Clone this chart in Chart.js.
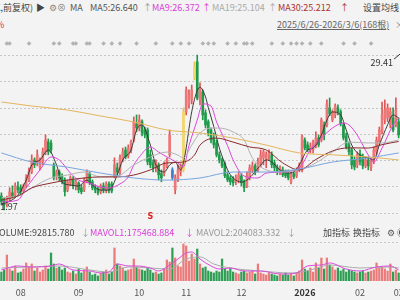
<!DOCTYPE html>
<html><head><meta charset="utf-8">
<script src="https://cdn.jsdelivr.net/npm/chart.js@4.4.1/dist/chart.umd.min.js"></script>
<style>
html,body{margin:0;padding:0;background:#f3f3f3;width:400px;height:300px;overflow:hidden;font-family:"Noto Sans CJK SC","Noto Sans",sans-serif;}
#wrap{position:relative;width:400px;height:300px;overflow:hidden;background:#f3f3f3;}
canvas{position:absolute;left:0;}
.t{position:absolute;white-space:nowrap;font-size:9px;line-height:12px;}
</style></head>
<body><div id="wrap">
<canvas id="pc" width="400" height="180" style="top:40px;width:400px;height:180px"></canvas>
<canvas id="vc" width="400" height="64" style="top:236px;width:400px;height:64px"></canvas>
<div class="t" style="top:2px;right:367px;color:#444">日K,前复权)</div>
<div class="t" style="top:2px;left:36px;color:#444">▶</div>
<div class="t" style="top:2px;left:49px;color:#888">⚙⊗</div>
<div class="t" style="top:2px;left:70px;color:#555">MA</div>
<div class="t" style="top:2px;left:90px;color:#555">MA5:26.640</div>
<div class="t" style="top:2px;left:143px;color:#999">↑</div>
<div class="t" style="top:2px;left:152px;color:#d83fd8">MA9:26.372</div>
<div class="t" style="top:2px;left:202px;color:#d83fd8">↑</div>
<div class="t" style="top:2px;left:212px;color:#aaa">MA19:25.104</div>
<div class="t" style="top:2px;left:268px;color:#aaa">↑</div>
<div class="t" style="top:2px;left:278px;color:#a83232">MA30:25.212</div>
<div class="t" style="top:2px;left:340px;color:#a83232">↑</div>
<div class="t" style="top:2px;left:363px;color:#444">设置均线</div>
<div class="t" style="top:19px;left:-4px;color:#e03030">%</div>
<div class="t" style="top:19px;left:277px;color:#666;text-decoration:underline">2025/6/26-2026/3/6(168根)</div>
<div class="t" style="top:19px;left:395px;color:#888">×</div>
<div class="t" style="top:227px;left:-6px;color:#444">VOLUME:92815.780</div>
<div class="t" style="top:227px;left:81px;color:#999">↓</div>
<div class="t" style="top:227px;left:90px;color:#d83fd8">MAVOL1:175468.884</div>
<div class="t" style="top:227px;left:185px;color:#d83fd8">↓</div>
<div class="t" style="top:227px;left:196px;color:#999">MAVOL2:204083.332</div>
<div class="t" style="top:227px;left:287px;color:#999">↓</div>
<div class="t" style="top:227px;left:323px;color:#444">加指标</div>
<div class="t" style="top:227px;left:353px;color:#444">换指标</div>
<div class="t" style="top:227px;left:387px;color:#555">⚙</div>
<div class="t" style="top:227px;left:397px;color:#555">◉</div>
</div>
<script>
// ---------- data (visible bars, oldest first) ----------
const open = [22.63,22.45,22.26,22.49,22.78,22.68,23.06,23.02,22.87,23.11,
23.39,23.77,24.33,24.19,23.96,24.24,24.71,25.18,25.13,24.10,
23.58,23.77,23.54,23.39,22.92,23.25,23.39,23.11,23.25,23.02,
22.92,23.39,23.68,23.30,23.02,22.97,22.83,23.11,22.92,23.20,
23.20,23.63,23.96,23.77,24.33,24.80,24.52,24.80,25.27,26.03,
25.84,26.13,25.74,25.74,24.57,24.19,23.96,24.10,23.68,23.68,
24.05,24.57,23.86,22.92,23.39,23.77,23.86,26.60,26.97,27.16,
28.19,28.95,27.16,27.54,26.55,26.13,25.74,25.37,25.13,24.57,
24.33,24.15,23.63,23.49,23.39,23.30,23.39,23.58,23.30,23.11,
23.49,23.86,24.05,23.86,24.10,24.42,24.33,24.52,24.57,24.19,
23.96,23.77,23.86,23.77,23.72,23.30,23.68,23.58,23.86,23.86,
25.27,25.04,24.80,24.80,24.99,25.37,25.27,25.98,25.98,26.78,
26.22,26.45,26.78,26.60,25.98,25.46,25.04,24.80,24.33,24.10,
24.61,24.42,24.05,24.33,23.96,24.24,24.71,25.18,25.65,26.22,
26.31,25.98,26.31,25.98,26.13];
const close = [22.36,22.21,22.54,22.83,22.63,23.11,22.92,22.83,23.11,23.49,
23.77,24.33,24.10,24.57,24.33,24.71,25.27,24.71,24.80,23.49,
23.77,23.49,23.30,22.83,23.30,23.49,23.11,23.30,22.92,22.83,
23.39,23.77,23.25,23.02,22.92,22.78,23.11,22.92,23.20,22.92,
22.87,24.10,23.77,24.43,24.71,24.47,24.89,25.18,26.13,25.84,
26.22,25.60,25.51,24.24,24.10,23.96,24.24,23.63,23.49,24.10,
24.33,25.51,23.49,23.49,23.86,24.05,26.60,27.63,27.39,27.63,
28.75,27.25,27.72,26.45,25.98,25.60,25.27,25.04,24.57,24.33,
24.05,23.58,23.39,23.30,23.25,23.49,23.63,23.25,23.02,23.58,
23.96,24.05,23.77,24.24,24.57,24.71,24.57,24.66,24.10,23.96,
23.77,23.96,23.63,23.58,23.49,23.68,23.54,23.86,24.10,25.42,
24.89,24.80,24.99,25.18,25.37,25.04,26.22,25.51,26.97,26.50,
26.60,26.88,26.60,26.03,25.37,24.94,24.71,24.10,24.00,24.57,
24.24,24.05,24.33,24.05,24.24,24.80,25.27,25.74,26.45,26.69,
26.78,26.60,25.74,26.69,25.51];
const high = [22.78,22.54,22.63,23.02,23.11,23.25,23.30,23.16,23.20,23.63,
23.96,24.57,24.43,24.80,24.43,24.89,25.51,25.32,25.27,24.19,
23.86,23.86,23.68,23.49,23.39,23.58,23.54,23.39,23.30,23.16,
23.49,23.86,23.77,23.39,23.16,23.06,23.20,23.25,23.30,23.30,
23.30,24.43,24.19,24.57,24.89,24.94,25.04,25.27,26.36,26.45,
26.45,26.22,25.88,25.84,24.80,24.33,24.33,24.19,23.86,24.24,
24.42,25.74,23.96,23.63,24.10,24.15,26.78,27.77,27.63,27.86,
28.95,29.27,27.96,27.63,26.69,26.22,25.84,25.60,25.27,24.71,
24.42,24.24,23.77,23.58,23.54,23.63,23.77,23.68,23.39,23.77,
24.10,24.24,24.15,24.42,24.80,24.80,24.71,24.80,24.71,24.33,
24.10,24.05,24.00,23.86,23.86,23.82,23.82,23.96,24.19,25.51,
25.37,25.18,25.13,25.27,25.65,25.51,26.31,26.13,27.16,27.25,
26.69,26.97,26.92,26.69,26.08,25.60,25.18,24.89,24.47,24.71,
24.80,24.61,24.47,24.47,24.42,24.94,25.41,25.88,27.06,27.16,
26.97,26.78,26.78,27.25,26.31];
const low = [22.21,21.97,22.12,22.40,22.54,22.59,22.78,22.68,22.78,23.02,
23.30,23.68,23.96,24.05,23.86,24.10,24.57,24.57,24.66,23.39,
23.39,23.34,23.20,22.63,22.83,23.11,22.97,22.92,22.78,22.73,
22.83,23.25,23.16,22.92,22.78,22.68,22.73,22.78,22.78,22.78,
22.78,23.49,23.63,23.63,24.24,24.38,24.42,24.66,25.18,25.65,
25.70,25.46,25.37,24.10,23.96,23.77,23.77,23.39,23.30,23.58,
23.96,24.47,23.39,22.73,23.30,23.58,23.77,26.45,26.78,26.97,
28.10,27.16,26.92,26.22,25.84,25.46,25.13,24.89,24.47,24.19,
23.96,23.49,23.30,23.16,23.11,23.16,23.25,23.11,22.83,23.02,
23.39,23.72,23.63,23.77,24.00,24.10,23.96,24.33,23.96,23.82,
23.63,23.63,23.54,23.49,23.39,23.20,23.44,23.49,23.77,23.77,
24.80,24.71,24.66,24.66,24.89,24.94,25.18,25.27,25.88,26.41,
26.13,26.31,26.45,25.93,25.27,24.85,24.57,23.91,23.86,23.96,
24.10,23.91,23.96,23.86,23.82,24.15,24.57,25.04,25.56,26.03,
26.13,25.84,25.65,25.88,25.37];
const volume = [159000,195000,460000,212000,177000,266000,142000,159000,212000,319000,
248000,301000,177000,230000,159000,195000,266000,212000,496000,301000,
230000,248000,195000,230000,159000,142000,177000,124000,212000,142000,
195000,248000,159000,106000,124000,89000,142000,159000,195000,124000,
159000,584000,301000,266000,230000,177000,195000,212000,389000,248000,
212000,195000,177000,230000,195000,142000,159000,124000,142000,212000,
372000,336000,584000,407000,266000,248000,655000,620000,354000,478000,
389000,566000,301000,230000,248000,177000,159000,142000,177000,159000,
389000,212000,177000,230000,159000,142000,124000,159000,177000,142000,
159000,177000,124000,301000,142000,124000,106000,142000,124000,106000,
89000,124000,106000,142000,106000,124000,89000,142000,177000,372000,
212000,177000,230000,159000,319000,230000,407000,212000,407000,283000,
248000,195000,230000,177000,212000,159000,195000,177000,159000,142000,
159000,177000,142000,159000,177000,195000,319000,230000,248000,212000,
177000,301000,159000,195000,142000];
const yellowIdx = [66,70];
const blueIdx = [62];

// moving-average lines (bar index, value)
const ma5Idx = [0,6,9,11,14,17,20,22,25,28,31,33,36,39,42,44,47,49,51,54,56,59,61,63,65,66,67,68,69,71,72,74,75,77,79,82,84,87,89,91,94,96,98,101,104,106,108,111,113,116,118,120,123,125,127,130,133,135,137,140,142,144];
const ma5Val = [22.21,22.68,23.38,24.09,24.33,24.80,24.09,23.29,23.15,23.10,23.38,23.15,22.91,22.91,23.62,24.33,24.80,25.74,25.98,25.03,24.09,23.76,24.09,24.23,23.86,24.20,24.90,25.80,26.60,27.60,27.75,27.30,26.80,25.90,24.90,23.86,23.48,23.29,23.38,23.62,24.09,24.33,24.23,23.86,23.71,23.76,24.09,24.80,24.89,25.50,26.21,26.59,26.45,25.74,25.03,24.56,24.42,24.33,25.03,25.98,26.45,26.31];
const ma9Idx = [0,6,9,14,18,21,25,28,32,36,39,43,46,48,50,54,57,60,64,66,68,71,73,76,78,82,84,88,93,96,102,108,112,116,120,124,126,129,133,135,138,142,144];
const ma9Val = [22.35,22.44,23.01,23.86,24.47,24.33,23.71,23.38,23.24,23.05,23.01,23.20,23.53,24.09,24.47,24.94,24.70,24.47,24.19,24.00,25.00,26.21,26.97,26.87,26.12,25.00,24.33,23.57,23.48,23.71,23.76,23.95,24.80,25.36,25.83,26.07,25.98,25.50,24.56,24.23,24.89,25.98,26.31];
const ma19Idx = [0,6,11,18,24,30,36,42,48,54,60,64,66,69,72,76,79,84,88,91,96,102,108,114,120,126,133,138,144];
const ma19Val = [22.55,22.63,23.01,23.48,23.62,23.76,23.53,23.57,24.09,24.47,24.70,24.56,24.42,25.03,25.60,25.83,25.83,25.65,25.27,24.42,23.86,23.76,23.86,24.19,24.70,25.17,25.13,25.13,25.27];
const ma30Idx = [0,6,11,18,24,30,36,42,48,54,60,66,70,72,78,84,90,96,102,108,114,120,126,133,138,144];
const ma30Val = [22.44,22.63,23.01,23.24,23.38,23.48,23.53,23.53,23.62,23.86,24.19,24.23,24.56,25.03,25.36,25.17,24.94,24.80,24.19,23.86,24.35,24.75,24.90,24.89,25.05,25.20];
const maBlueIdx = [0,11,24,36,48,60,72,84,96,108,120,133,144];
const maBlueVal = [24.66,24.23,23.99,23.71,23.48,23.38,23.48,23.76,23.76,23.90,24.23,24.42,24.66];
const maGoldIdx = [0,11,24,36,48,60,72,84,96,108,120,133,144];
const maGoldVal = [27.06,26.87,26.68,26.40,26.12,25.74,25.60,25.36,25.03,24.66,24.57,24.47,24.33];
const mavol1Idx = [0,6,11,18,21,26,32,36,39,42,46,49,54,57,61,64,67,69,72,76,79,83,88,94,101,107,111,116,119,125,130,136,141,144];
const mavol1Val = [195000,266000,248000,266000,301000,195000,177000,142000,159000,301000,266000,266000,230000,177000,283000,389000,496000,513000,389000,266000,212000,230000,177000,177000,124000,142000,266000,283000,319000,212000,177000,248000,266000,195000];
const mavol2Idx = [0,11,21,32,39,46,54,61,67,72,77,83,94,105,112,119,130,141,144];
const mavol2Val = [230000,248000,266000,195000,159000,248000,230000,212000,389000,425000,301000,230000,177000,142000,195000,283000,230000,248000,230000];

const gridVals = [29.27,28.03,26.80,25.56,24.32,23.09,21.85];
const volGridVals = [690000];
const monthIdx = [7,28,50,67,87,110,130,144];
const monthText = ['08','09','10','11','12','2026','02','03'];
const eventIdx = [2,3,10,19,21,26,27,31,32,37,40,43,49,56,62,65,68,73,75,77,82,85,88,89,91,98,102,105,107,109,112,116,124,128,134];
const lowIdx = 1, lowVal = 21.97, lowText = '21.97';
const highText = '29.41';
const signalIdx = 54, signalText = 'S';

// ---------- build ----------
const labels = close.map((_, i) => i);
const RED = '#ee7676', RED_W = '#e05555', GREEN = '#1f9a4b', YEL = '#f3d56a', BLUE = '#3d7fd3';
const candleCol = close.map((c, i) => yellowIdx.includes(i) ? YEL : blueIdx.includes(i) ? BLUE : (c >= open[i] ? RED : GREEN));
const wickCol = close.map((c, i) => yellowIdx.includes(i) ? '#e8c24a' : blueIdx.includes(i) ? BLUE : (c >= open[i] ? RED_W : GREEN));
const bodies = close.map((c, i) => [Math.min(c, open[i]), Math.max(c, open[i])]);
const wicks = close.map((_, i) => [low[i], high[i]]);
const pts = (idx, val) => idx.map((x, i) => ({x: x, y: val[i]}));
const lineDs = (idx, val, col, ord) => ({type: 'line', data: pts(idx, val), borderColor: col, borderWidth: 1, pointRadius: 0, cubicInterpolationMode: 'monotone', fill: false, order: ord});

const pricePlugin = {
  id: 'pricePlugin',
  beforeDatasetsDraw(chart) {
    const {ctx} = chart, x = chart.scales.x, y = chart.scales.y;
    ctx.save();
    ctx.strokeStyle = '#c6c6c6'; ctx.lineWidth = 1; ctx.setLineDash([2, 2]);
    gridVals.forEach(v => { const py = Math.round(y.getPixelForValue(v)) + 0.5; ctx.beginPath(); ctx.moveTo(0, py); ctx.lineTo(chart.width, py); ctx.stroke(); });
    ctx.setLineDash([]);
    ctx.fillStyle = '#b2b2b2'; ctx.font = '6px "DejaVu Sans"'; ctx.textAlign = 'center'; ctx.textBaseline = 'middle';
    eventIdx.forEach(i => ctx.fillText('◆', x.getPixelForValue(i), 3));
    ctx.restore();
  },
  afterDatasetsDraw(chart) {
    const {ctx} = chart, x = chart.scales.x, y = chart.scales.y;
    ctx.save();
    ctx.font = '9px "Noto Sans CJK SC"'; ctx.fillStyle = '#333'; ctx.textBaseline = 'middle';
    ctx.textAlign = 'left';
    ctx.fillText(lowText, x.getPixelForValue(lowIdx) - 9, y.getPixelForValue(lowVal) - 3);
    ctx.textAlign = 'right';
    ctx.fillText(highText, chart.width - 7, y.getPixelForValue(29.41) + 10);
    ctx.strokeStyle = '#333'; ctx.lineWidth = 1;
    ctx.beginPath(); ctx.moveTo(chart.width - 6, y.getPixelForValue(29.41) + 7); ctx.lineTo(chart.width, y.getPixelForValue(29.41) + 2); ctx.stroke();
    ctx.fillStyle = '#e02020'; ctx.font = 'bold 8px "DejaVu Sans"'; ctx.textAlign = 'center';
    ctx.fillText(signalText, x.getPixelForValue(signalIdx), 177);
    ctx.restore();
  }
};

new Chart(document.getElementById('pc'), {
  type: 'bar',
  data: {
    labels: labels,
    datasets: [
      lineDs(maGoldIdx, maGoldVal, '#e3b55c', 0),
      lineDs(maBlueIdx, maBlueVal, '#79a6dc', 0),
      lineDs(ma30Idx, ma30Val, '#8a2a2a', 0),
      lineDs(ma19Idx, ma19Val, '#b3b3b3', 0),
      lineDs(ma9Idx, ma9Val, '#dc46dc', 0),
      lineDs(ma5Idx, ma5Val, '#3a3a3a', 0),
      {type: 'bar', data: bodies, backgroundColor: candleCol, barThickness: 2, minBarLength: 1, grouped: false, order: 1, borderWidth: 0},
      {type: 'bar', data: wicks, backgroundColor: wickCol, barThickness: 1, grouped: false, order: 2, borderWidth: 0}
    ]
  },
  options: {
    responsive: false, animation: false, devicePixelRatio: 1,
    layout: {padding: 0},
    plugins: {legend: {display: false}, tooltip: {enabled: false}},
    scales: {
      x: {type: 'category', display: false, offset: true},
      y: {display: false, min: 21.50, max: 29.98}
    }
  },
  plugins: [pricePlugin]
});

const volPlugin = {
  id: 'volPlugin',
  beforeDatasetsDraw(chart) {
    const {ctx} = chart, y = chart.scales.y;
    ctx.save();
    ctx.strokeStyle = '#c6c6c6'; ctx.lineWidth = 1; ctx.setLineDash([2, 2]);
    volGridVals.forEach(v => { const py = Math.round(y.getPixelForValue(v)) + 0.5; ctx.beginPath(); ctx.moveTo(0, py); ctx.lineTo(chart.width, py); ctx.stroke(); });
    ctx.restore();
  },
  afterDraw(chart) {
    const {ctx} = chart, x = chart.scales.x;
    ctx.save();
    ctx.textAlign = 'center'; ctx.textBaseline = 'middle';
    monthIdx.forEach((m, k) => {
      const bold = monthText[k].length === 4;
      ctx.font = (bold ? 'bold ' : '') + '9px "Noto Sans CJK SC"';
      ctx.fillStyle = bold ? '#333' : '#555';
      ctx.fillText(monthText[k], x.getPixelForValue(m), 57);
    });
    ctx.restore();
  }
};

const volCol = close.map((c, i) => c >= open[i] ? '#ec7a7a' : '#2f9e55');
new Chart(document.getElementById('vc'), {
  type: 'bar',
  data: {
    labels: labels,
    datasets: [
      {type: 'line', data: pts(mavol1Idx, mavol1Val), borderColor: '#d84ad8', borderWidth: 1, pointRadius: 0, cubicInterpolationMode: 'monotone', order: 0},
      {type: 'line', data: pts(mavol2Idx, mavol2Val), borderColor: '#ababab', borderWidth: 1, pointRadius: 0, cubicInterpolationMode: 'monotone', order: 0},
      {type: 'bar', data: volume, backgroundColor: volCol, barThickness: 1.6, grouped: false, order: 1, borderWidth: 0}
    ]
  },
  options: {
    responsive: false, animation: false, devicePixelRatio: 1,
    layout: {padding: {top: 6, bottom: 19, left: 0, right: 0}},
    plugins: {legend: {display: false}, tooltip: {enabled: false}},
    scales: {
      x: {type: 'category', display: false, offset: true},
      y: {display: false, min: 0, max: 690000}
    }
  },
  plugins: [volPlugin]
});
</script>
</body></html>
